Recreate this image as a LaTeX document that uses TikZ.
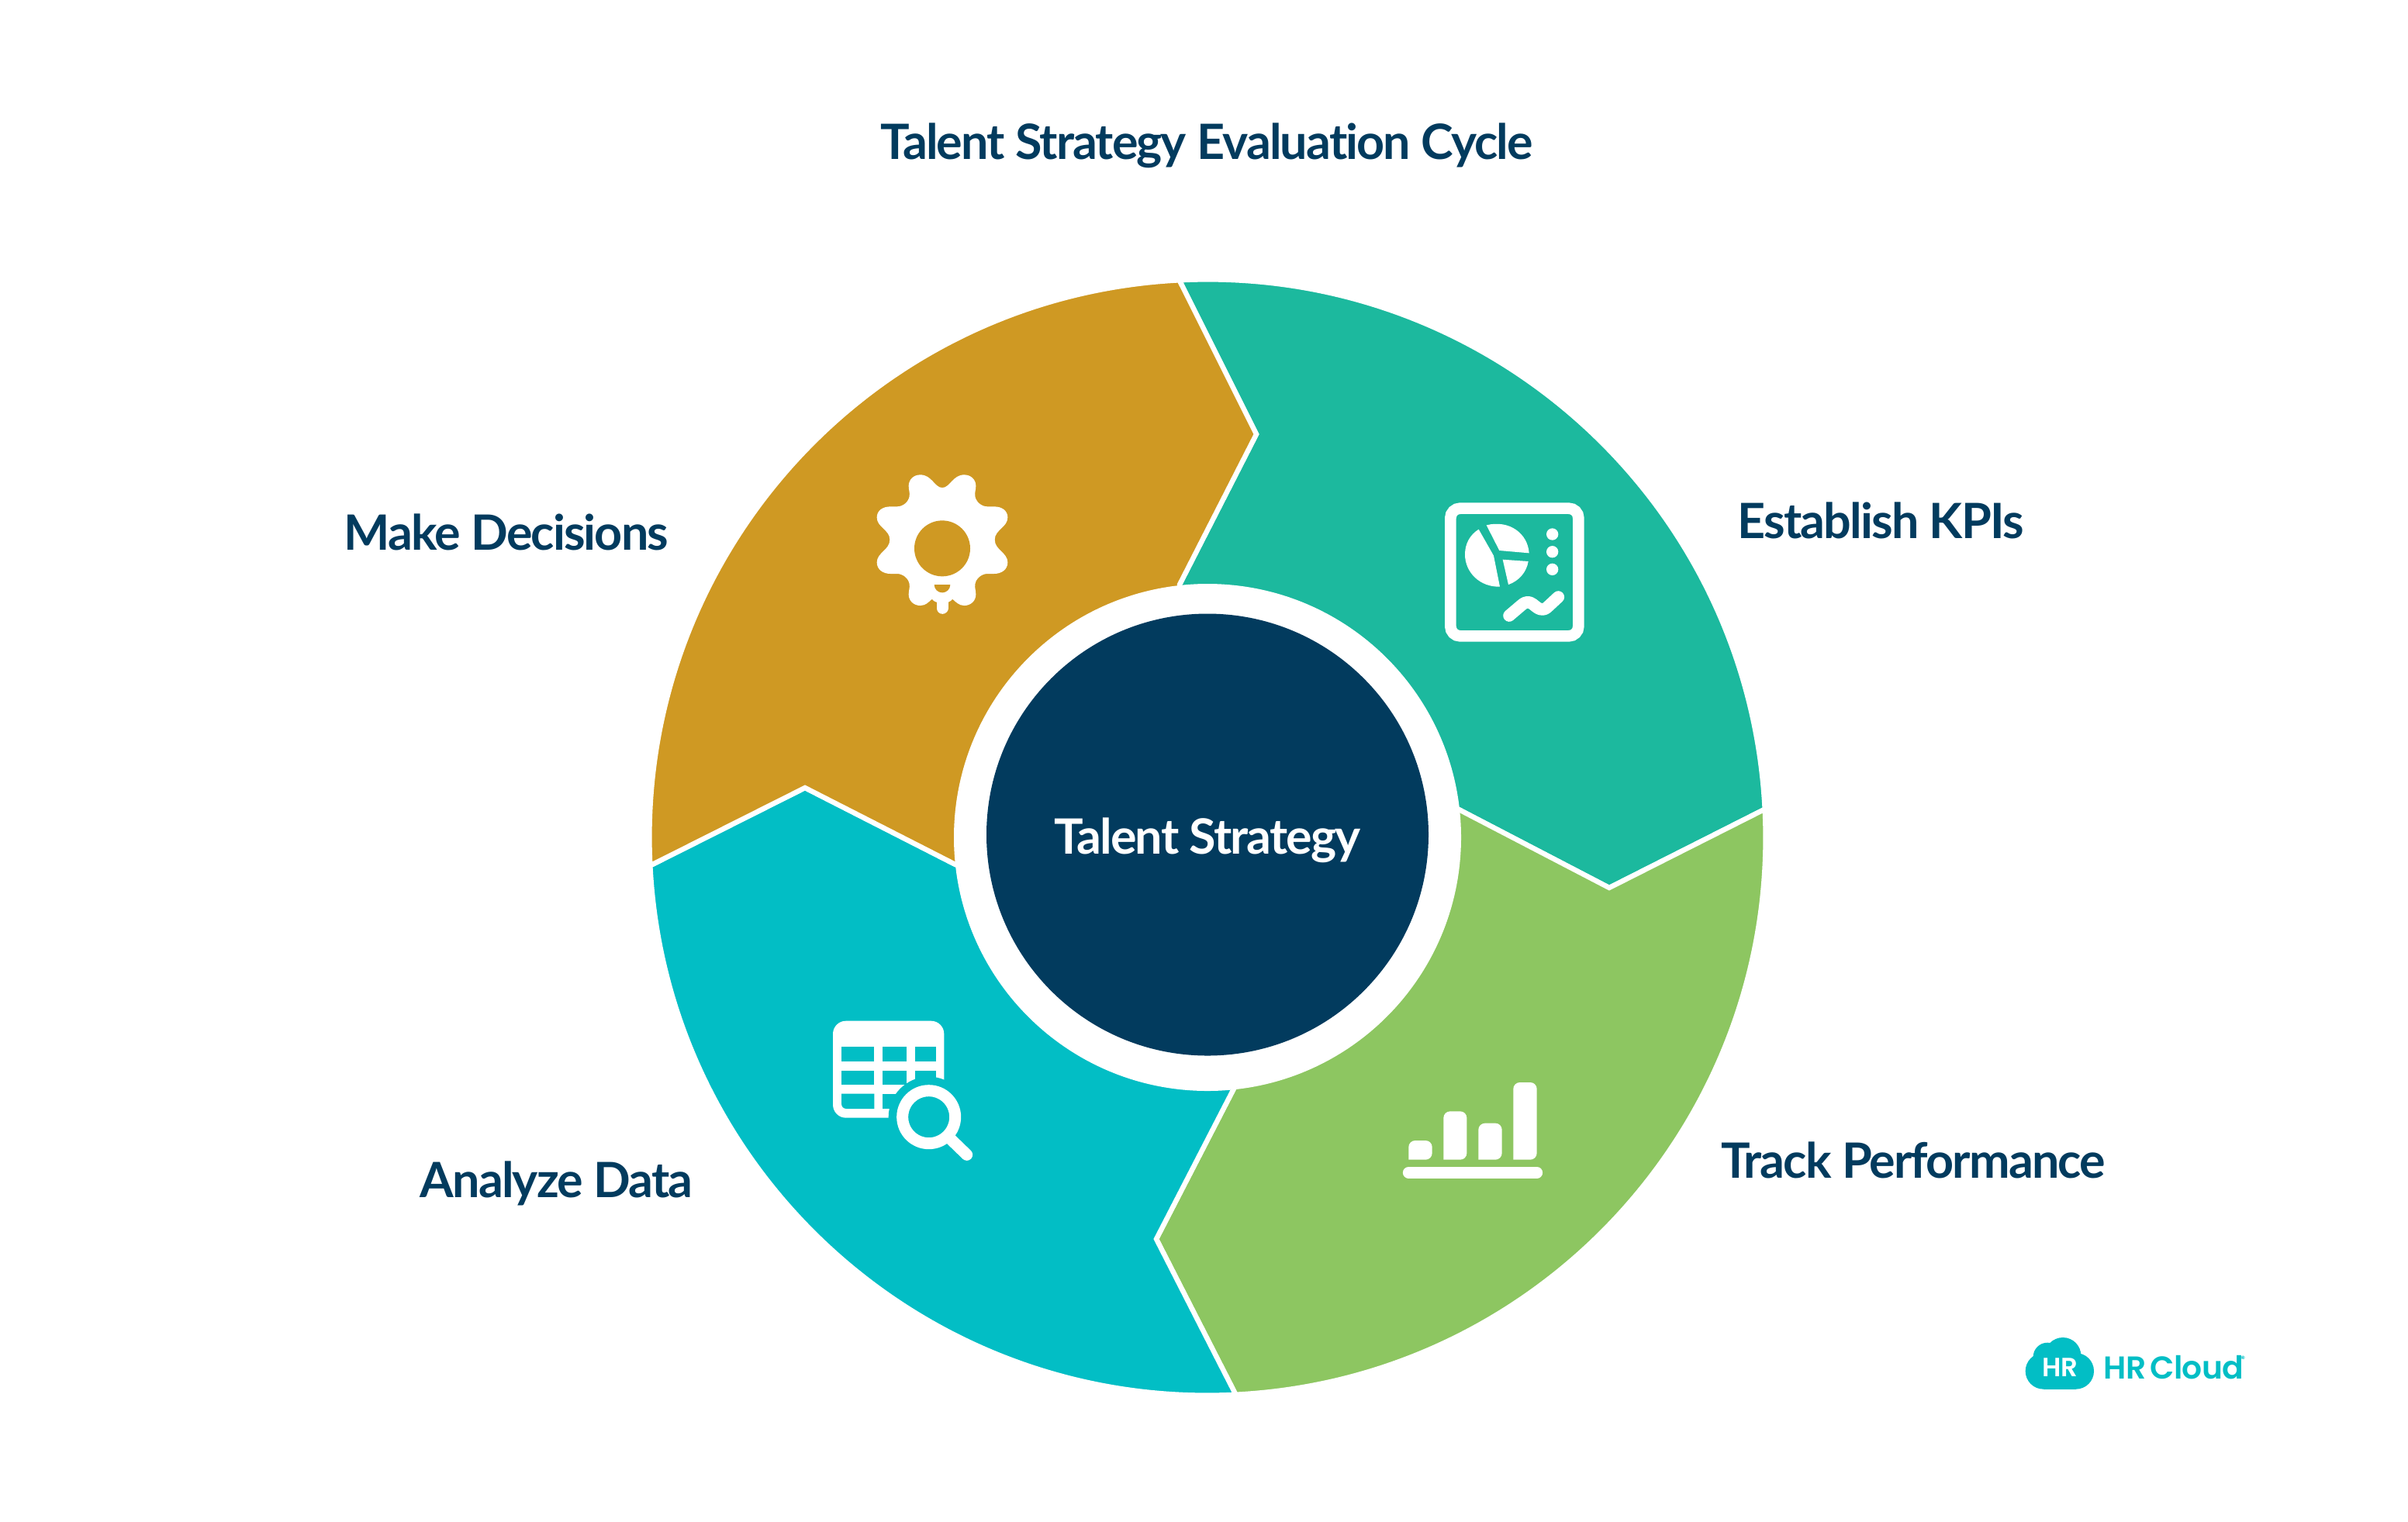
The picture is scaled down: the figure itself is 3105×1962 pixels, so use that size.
\documentclass[tikz,border=0pt]{standalone}
\usepackage{fontspec}
\setmainfont{Lato}
\newfontfamily\labfont{Lato Bold}[LetterSpace=-3,Ligatures=NoCommon]
\newfontfamily\logofont{Poppins SemiBold}[LetterSpace=-2,WordSpace=0.6]
\newfontfamily\hrfont{Poppins SemiBold}
\usetikzlibrary{calc}
\definecolor{navy}{HTML}{023B5E}
\definecolor{tealseg}{HTML}{1CB99E}
\definecolor{goldseg}{HTML}{CF9923}
\definecolor{cyanseg}{HTML}{02BEC5}
\definecolor{greenseg}{HTML}{8DC661}
\def\uu{0.25pt}
\def\RR{179.9pt}
\tikzset{
  x=0.25pt,y=-0.25pt,
  seg/.style={draw=white,line width=1.6pt,line join=miter},
  lab/.style={text=navy,font=\labfont\fontsize{15.7pt}{18pt}\selectfont,inner sep=0pt,anchor=base},
}
\begin{document}
\begin{tikzpicture}
\useasboundingbox (0,0) rectangle (3105,1962);
\fill[white] (0,0) rectangle (3105,1962);
\coordinate (c) at (1557,1080);
\coordinate (a1) at ($(c)+(92.9:\RR)$);
\coordinate (a2) at ($(c)+(2.9:\RR)$);
\coordinate (a3) at ($(c)+(-87.1:\RR)$);
\coordinate (a4) at ($(c)+(-177.1:\RR)$);
% segments
\path[seg,fill=tealseg] (a1) arc[start angle=92.9,end angle=2.9,radius=\RR] -- (2075,1145) -- (1881,1044) -- (c) -- (1521,754) -- (1620,560) -- cycle;
\path[seg,fill=greenseg] (a2) arc[start angle=2.9,end angle=-87.1,radius=\RR] -- (1491,1598) -- (1592,1402) -- (c) -- (1881,1044) -- (2075,1145) -- cycle;
\path[seg,fill=cyanseg] (a3) arc[start angle=-87.1,end angle=-177.1,radius=\RR] -- (1038,1016) -- (1232,1115) -- (c) -- (1592,1402) -- (1491,1598) -- cycle;
\path[seg,fill=goldseg] (a4) arc[start angle=-177.1,end angle=-267.1,radius=\RR] -- (1620,560) -- (1521,754) -- (c) -- (1232,1115) -- (1038,1016) -- cycle;
\fill[white] (c) circle[radius=327*\uu];
\fill[navy] (1557,1076.5) circle[radius=285*\uu];
% labels
\node[lab] (title) at (1556,205) {Talent Strategy Evaluation Cycle};
\node[lab,text=white] (center) at (1557,1101) {Talent Strategy};
\node[lab] (kpi) at (2425,694) {Establish KPIs};
\node[lab] (track) at (2467,1519) {Track Performance};
\node[lab] (make) at (653,709) {Make Decisions};
\node[lab] (analyze) at (717.5,1544) {Analyze Data};
% KPI icon
\begin{scope}[shift={(1820,620)},scale=1/3]
\draw[white,line width=3.65pt,rounded corners=3.1pt] (151,107) rectangle (646,601);
\fill[white] (260,188) -- (318,290) -- (342,410) .. controls (265,412) and (207,355) .. (207,285) .. controls (207,245) and (225,210) .. (260,188) -- cycle;
\fill[white] (290,172) -- (340,270) -- (455,280) .. controls (450,205) and (380,150) .. (290,172) -- cycle;
\fill[white] (353,305) -- (452,312) .. controls (445,355) and (415,388) .. (375,402) -- cycle;
\fill[white] (545,207) circle[radius=23*\uu];
\fill[white] (545,275) circle[radius=23*\uu];
\fill[white] (545,343) circle[radius=23*\uu];
\draw[white,line width=3.9pt,line cap=round,line join=round] (378,522) -- (425,482) .. controls (445,465) and (455,468) .. (470,478) -- (485,490) .. controls (505,503) and (515,498) .. (525,490) -- (568,450);
\end{scope}
% gear icon
\begin{scope}[shift={(1100,590)},scale=1/3]
\fill[white] (345,117) .. controls (375,117) and (385,67) .. (430,67)
  .. controls (455,67) and (475,85) .. (475,110) .. controls (475,125) and (470,135) .. (472,150)
  .. controls (475,170) and (495,190) .. (520,190) -- (545,190)
  .. controls (575,190) and (598,205) .. (598,232) .. controls (598,270) and (548,280) .. (548,318)
  .. controls (548,358) and (598,368) .. (598,406) .. controls (598,433) and (575,450) .. (545,450) -- (520,450)
  .. controls (495,450) and (475,470) .. (472,490) .. controls (470,505) and (475,515) .. (475,530)
  .. controls (475,555) and (455,573) .. (430,573) .. controls (410,573) and (398,560) .. (385,548)
  .. controls (380,553) and (375,558) .. (368,560) -- (322,560)
  .. controls (315,558) and (310,553) .. (305,548) .. controls (292,560) and (280,573) .. (260,573)
  .. controls (235,573) and (215,555) .. (215,530) .. controls (215,515) and (220,505) .. (218,490)
  .. controls (215,470) and (195,450) .. (170,450) -- (145,450)
  .. controls (115,450) and (92,433) .. (92,406) .. controls (92,368) and (142,358) .. (142,318)
  .. controls (142,280) and (92,270) .. (92,232) .. controls (92,205) and (115,190) .. (145,190) -- (170,190)
  .. controls (195,190) and (215,170) .. (218,150) .. controls (220,135) and (215,125) .. (215,110)
  .. controls (215,85) and (235,67) .. (260,67) .. controls (305,67) and (315,117) .. (345,117) -- cycle;
\draw[white,line width=3.75pt,line cap=round] (345,530) -- (345,583);
\fill[goldseg] (345,352) circle[radius=108*\uu];
\fill[goldseg] (314,492) -- (376,492) arc[start angle=0,end angle=-180,radius=31*\uu] -- cycle;
\end{scope}
% table icon
\begin{scope}[shift={(1050,1300)},scale=1/3]
\fill[white,rounded corners=4.2pt] (72,50) rectangle (502,425);
\foreach \xa/\xb in {105/232,265/357,390/470}{
  \fill[cyanseg] (\xa,150) rectangle (\xb,208);
  \fill[cyanseg] (\xa,242) rectangle (\xb,298);
}
\fill[cyanseg] (232,332) -- (232,390) -- (125,390) .. controls (113,390) and (105,382) .. (105,370) -- (105,332) -- cycle;
\fill[cyanseg] (265,332) rectangle (357,390);
\fill[cyanseg] (390,332) rectangle (470,390);
\fill[cyanseg] (443,422) circle[radius=156*\uu];
\draw[white,line width=3.75pt] (443,422) circle[radius=102*\uu];
\draw[white,line width=3.75pt,line cap=round] (525,505) -- (590,568);
\end{scope}
% bars icon
\begin{scope}[shift={(1790,1370)},scale=1/3]
\fill[white,rounded corners=2.1pt] (79,377) -- (79,303) -- (170,303) -- (170,377) [sharp corners] -- cycle;
\fill[white,rounded corners=2.1pt] (214,377) -- (214,190) -- (304,190) -- (304,377) [sharp corners] -- cycle;
\fill[white,rounded corners=2.1pt] (349,377) -- (349,236) -- (440,236) -- (440,377) [sharp corners] -- cycle;
\fill[white,rounded corners=2.1pt] (484,377) -- (484,78) -- (575,78) -- (575,377) [sharp corners] -- cycle;
\draw[white,line width=3.75pt,line cap=round] (79,427) -- (575,427);
\end{scope}
% logo
\begin{scope}[shift={(2590,1700)},scale=1/3]
\fill[cyanseg] (135,205) circle[radius=70*\uu];
\fill[cyanseg] (150,150) circle[radius=55*\uu];
\fill[cyanseg] (210,145) circle[radius=70*\uu];
\fill[cyanseg] (260,205) circle[radius=70*\uu];
\fill[cyanseg] (135,190) rectangle (260,275);
\node[inner sep=0pt,text=white,font=\hrfont\fontsize{8.5pt}{10pt}\selectfont,anchor=base] (hr) at (199,225) {HR};
\node[inner sep=0pt,text=cyanseg,font=\logofont\fontsize{10.2pt}{12pt}\selectfont,anchor=base west] (logo) at (366,235) {HR Cloud};
\node[inner sep=0pt,text=cyanseg,font=\hrfont\fontsize{2.6pt}{3pt}\selectfont] (reg) at (907,157) {®};
\end{scope}
\end{tikzpicture}
\end{document}
